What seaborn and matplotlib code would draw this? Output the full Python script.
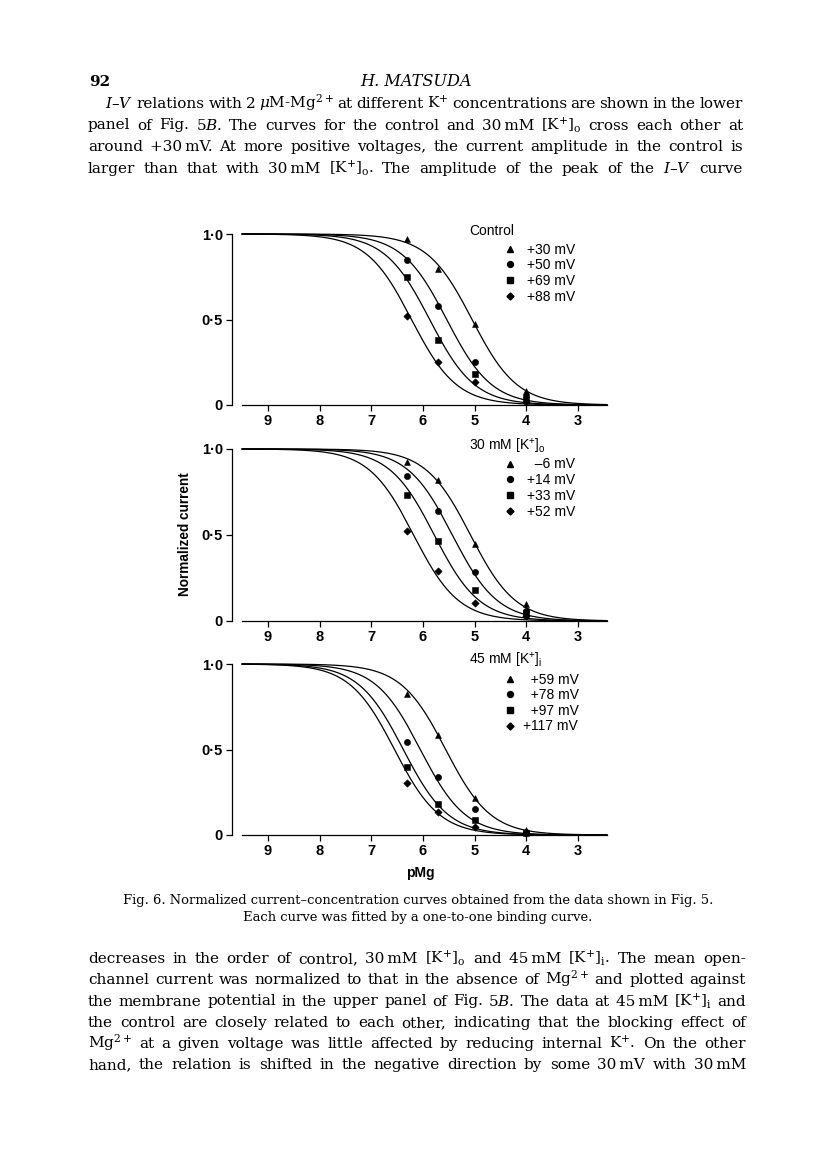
import numpy as np
import pandas as pd
import matplotlib
matplotlib.use("Agg")
import matplotlib.pyplot as plt
from matplotlib.lines import Line2D
import seaborn as sns

sns.set_theme(style="ticks")
plt.rcParams["font.family"] = ["Liberation Sans", "DejaVu Sans"]
plt.rcParams["mathtext.fontset"] = "dejavuserif"
plt.rcParams["axes.linewidth"] = 0.9
plt.rcParams["axes.edgecolor"] = "black"
plt.rcParams["xtick.color"] = "black"
plt.rcParams["ytick.color"] = "black"
plt.rcParams["text.color"] = "black"

# ---------------- data ----------------
pmg_points = [6.3, 5.7, 5.0, 4.0]
x_ticks = [9, 8, 7, 6, 5, 4, 3]
y_ticks = [0.0, 0.5, 1.0]
y_tick_labels = ["0", "0·5", "1·0"]
marker_shapes = ["^", "o", "s", "D"]
marker_sizes = [18, 20, 22, 14]

control_title = "Control"
control_labels = ["+30 mV", "+50 mV", "+69 mV", "+88 mV"]
control_values = [
    [0.97, 0.795, 0.475, 0.08],
    [0.85, 0.58, 0.25, 0.05],
    [0.75, 0.38, 0.18, 0.03],
    [0.52, 0.25, 0.135, 0.02],
]
control_pkd = [5.05, 5.54, 5.87, 6.22]

ko_title = "30 mM [K$^{\\mathregular{+}}$]$_{\\mathregular{o}}$"
ko_labels = ["\u2007\u20136 mV", "+14 mV", "+33 mV", "+52 mV"]
ko_values = [
    [0.925, 0.82, 0.45, 0.10],
    [0.845, 0.64, 0.285, 0.06],
    [0.73, 0.465, 0.178, 0.045],
    [0.525, 0.29, 0.103, 0.03],
]
ko_pkd = [5.08, 5.43, 5.78, 6.18]

ki_title = "45 mM [K$^{\\mathregular{+}}$]$_{\\mathregular{i}}$"
ki_labels = ["\u2007+59 mV", "\u2007+78 mV", "\u2007+97 mV", "+117 mV"]
ki_values = [
    [0.825, 0.585, 0.215, 0.03],
    [0.545, 0.342, 0.152, 0.02],
    [0.398, 0.18, 0.09, 0.01],
    [0.305, 0.137, 0.045, 0.01],
]
ki_pkd = [5.56, 6.05, 6.38, 6.55]

y_label = "Normalized current"
x_label = "pMg"

page_number = "92"
running_head = "H. MATSUDA"
para1 = [
    "$I$\u2013$V$ relations with 2 $\\mu$M-Mg$^{\\mathregular{2+}}$ at different K$^{\\mathregular{+}}$ concentrations are shown in the lower",
    "panel of Fig. 5$B$. The curves for the control and 30~mM [K$^{\\mathregular{+}}$]$_{\\mathregular{o}}$ cross each other at",
    "around +30~mV. At more positive voltages, the current amplitude in the control is",
    "larger than that with 30~mM [K$^{\\mathregular{+}}$]$_{\\mathregular{o}}$. The amplitude of the peak of the $I$\u2013$V$ curve",
]
caption = [
    "Fig. 6. Normalized current\u2013concentration curves obtained from the data shown in Fig. 5.",
    "Each curve was fitted by a one-to-one binding curve.",
]
para2 = [
    "decreases in the order of control, 30~mM [K$^{\\mathregular{+}}$]$_{\\mathregular{o}}$ and 45~mM [K$^{\\mathregular{+}}$]$_{\\mathregular{i}}$. The mean open-",
    "channel current was normalized to that in the absence of Mg$^{\\mathregular{2+}}$ and plotted against",
    "the membrane potential in the upper panel of Fig. 5$B$. The data at 45~mM [K$^{\\mathregular{+}}$]$_{\\mathregular{i}}$ and",
    "the control are closely related to each other, indicating that the blocking effect of",
    "Mg$^{\\mathregular{2+}}$ at a given voltage was little affected by reducing internal K$^{\\mathregular{+}}$. On the other",
    "hand, the relation is shifted in the negative direction by some 30~mV with 30~mM",
]

# ---------------- layout ----------------
W, H = 816, 1166
fig = plt.figure(figsize=(W / 100, H / 100), dpi=100)
fig.patch.set_facecolor("white")
renderer = fig.canvas.get_renderer()

SERIF = "DejaVu Serif"
FIGFONT = 10
TICKFONT = 10.5


def fx(x):
    return x / W


def fy(y):
    return 1 - y / H


AX_L, AX_R = 242, 607
XLIM = (9.5, 2.44)
panels = [
    (control_title, control_labels, control_values, control_pkd, 405, 234, 0.75),
    (ko_title, ko_labels, ko_values, ko_pkd, 621, 449, 0.75),
    (ki_title, ki_labels, ki_values, ki_pkd, 835, 664, 0.45),
]

pmg_grid = np.linspace(XLIM[0], XLIM[1], 500)

for title, labels, values, pkd, y0, y1, tpad in panels:
    ax = fig.add_axes([fx(AX_L), fy(y0), (AX_R - AX_L) / W, (y0 - y1) / H])
    ax.set_facecolor("none")
    # fitted one-to-one binding curves
    rows = []
    for lab, k in zip(labels, pkd):
        yv = 1.0 / (1.0 + 10 ** (k - pmg_grid))
        rows.append(pd.DataFrame({"pMg": pmg_grid, "I": yv, "series": lab}))
    curves = pd.concat(rows, ignore_index=True)
    sns.lineplot(data=curves, x="pMg", y="I", units="series", estimator=None,
                 color="black", linewidth=0.9, ax=ax, legend=False, clip_on=False)
    # data points
    prow = []
    for lab, vals in zip(labels, values):
        for p, v in zip(pmg_points, vals):
            prow.append({"pMg": p, "I": v, "series": lab})
    pts = pd.DataFrame(prow)
    for lab, mk, ms in zip(labels, marker_shapes, marker_sizes):
        sub = pts[pts["series"] == lab]
        sns.scatterplot(data=sub, x="pMg", y="I", marker=mk, s=ms, color="black",
                        edgecolor="black", linewidth=0.4, ax=ax, legend=False,
                        clip_on=False, zorder=3)
    ax.set_xlim(*XLIM)
    ax.set_ylim(0, 1)
    ax.set_xticks(x_ticks)
    ax.set_xticklabels([str(t) for t in x_ticks])
    ax.set_yticks(y_ticks)
    ax.set_yticklabels(y_tick_labels)
    ax.set_xlabel("")
    ax.set_ylabel("")
    sns.despine(ax=ax)
    ax.spines["left"].set_position(("outward", 7.2))
    ax.tick_params(axis="y", direction="out", length=4.5, width=0.9, pad=2,
                   labelsize=TICKFONT)
    ax.tick_params(axis="x", direction="out", length=4.3, width=0.9, pad=2.5,
                   labelsize=TICKFONT)
    for lab in ax.get_xticklabels() + ax.get_yticklabels():
        lab.set_fontweight("bold")

    # legend
    ax.text((469 - AX_L) / (AX_R - AX_L), 1 + 3 / (y0 - y1), title, transform=ax.transAxes,
            ha="left", va="center", fontsize=FIGFONT)
    handles = [Line2D([], [], ls="none", marker=mk, color="black",
                      markersize=np.sqrt(ms) * 0.95) for mk, ms in zip(marker_shapes, marker_sizes)]
    ax.legend(handles, labels, loc="upper left",
              bbox_to_anchor=((503 - AX_L) / (AX_R - AX_L), 1 - 8.5 / (y0 - y1)),
              frameon=False, borderpad=0, borderaxespad=0, handlelength=1.0,
              handletextpad=tpad, labelspacing=0.12, fontsize=FIGFONT)

fig.text(fx(185), fy(534), y_label, rotation=90, ha="center", va="center",
         fontsize=9.8, fontweight="bold")
fig.text(fx(420), fy(873), x_label, ha="center", va="center", fontsize=10, fontweight="bold")


# ---------------- page text ----------------
def natural_width(line, size):
    t = fig.text(0, 0, line.replace("~", "\u2009"), fontsize=size,
                 family=[SERIF, "DejaVu Sans"])
    w = t.get_window_extent(renderer).width
    t.remove()
    return w


def justified(line, x0, x1, y_base, size):
    words = [w.replace("~", "\u2009") for w in line.split(" ")]
    objs = [fig.text(0, fy(y_base), w, fontsize=size, family=[SERIF, "DejaVu Sans"],
                     va="baseline", ha="left") for w in words]
    widths = [o.get_window_extent(renderer).width for o in objs]
    gap = (x1 - x0 - sum(widths)) / max(len(words) - 1, 1)
    x = x0
    for o, wd in zip(objs, widths):
        o.set_x(fx(x))
        x += wd + gap


# choose a body size so that the text fills the measure with normal spacing
targets = [(l, 743 - (105 if i == 0 else 88)) for i, l in enumerate(para1)] + \
          [(l, 746 - 88) for l in para2]
ratios = sorted(tw / natural_width(l, 10) for l, tw in targets)
BODY = 10 * ratios[1] * 0.985

fig.text(fx(89), fy(86), page_number, family=SERIF, fontsize=BODY, fontweight="bold",
         va="baseline", ha="left")
fig.text(fx(416), fy(86), running_head, family=SERIF, fontsize=BODY * 1.06, style="italic",
         va="baseline", ha="center")

base1 = [108, 129.5, 151, 172.5]
for i, (ln, yb) in enumerate(zip(para1, base1)):
    justified(ln, 105 if i == 0 else 88, 743, yb, BODY)

cap_size = 10 * 596 / natural_width(caption[0], 10)
cap_base = [904, 920.5]
for ln, yb in zip(caption, cap_base):
    fig.text(fx(418), fy(yb), ln, family=SERIF, fontsize=cap_size, va="baseline", ha="center")

base2 = [963, 984, 1005.5, 1027, 1048, 1069]
for ln, yb in zip(para2, base2):
    justified(ln, 88, 746, yb, BODY)

fig.savefig("out.png", dpi=100, facecolor="white")
